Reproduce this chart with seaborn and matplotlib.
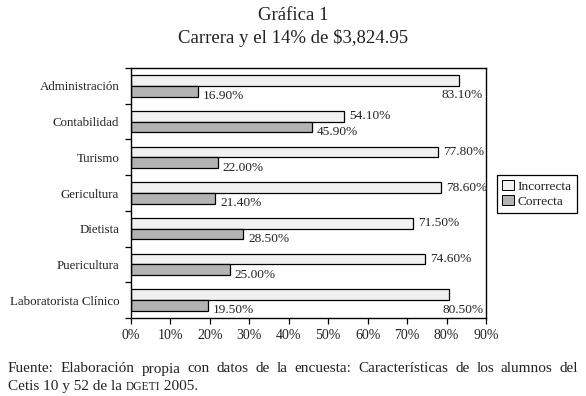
import pandas as pd
import seaborn as sns
import matplotlib.pyplot as plt
from matplotlib.ticker import FixedLocator, FuncFormatter

# Datos
carreras = ['Administración', 'Contabilidad', 'Turismo', 'Gericultura',
            'Dietista', 'Puericultura', 'Laboratorista Clínico']
incorrecta = [83.10, 54.10, 77.80, 78.60, 71.50, 74.60, 80.50]
correcta = [16.90, 45.90, 22.00, 21.40, 28.50, 25.00, 19.50]
series = ['Incorrecta', 'Correcta']
colores = ['#f1f1f1', '#b3b3b3']
x_ticks = [0, 10, 20, 30, 40, 50, 60, 70, 80, 90]

df = pd.DataFrame({
    'Carrera': carreras * 2,
    'Valor': incorrecta + correcta,
    'Respuesta': ['Incorrecta'] * len(carreras) + ['Correcta'] * len(carreras),
})

sns.set_style('white')
plt.rcParams['font.family'] = ['Liberation Serif', 'DejaVu Serif']
plt.rcParams['text.color'] = '#222222'
plt.rcParams['xtick.color'] = 'black'

fs = 9.6

fig = plt.figure(figsize=(5.86, 3.96), dpi=100)
ax = fig.add_axes([131 / 586, 1 - 318 / 396, 355 / 586, 250 / 396])

sns.barplot(data=df, y='Carrera', x='Valor', hue='Respuesta', hue_order=series,
            order=carreras, orient='h', width=0.6, palette=colores,
            edgecolor='black', linewidth=0.9, saturation=1, ax=ax)

ax.set_xlim(0, 90)
ax.set_ylim(len(carreras) - 0.5, -0.5)
ax.set_xlabel('')
ax.set_ylabel('')

for s in ax.spines.values():
    s.set_visible(True)
    s.set_color('black')
    s.set_linewidth(1.0)

ax.xaxis.set_major_locator(FixedLocator(x_ticks))
ax.xaxis.set_major_formatter(FuncFormatter(lambda v, p: f'{v:.0f}%'))
ax.tick_params(axis='x', bottom=True, length=4, width=0.9, color='black',
               labelsize=10, labelcolor='#222222', pad=4)
ax.tick_params(axis='y', which='major', left=False, labelsize=9.3,
               labelcolor='#222222', pad=5)
ax.yaxis.set_minor_locator(FixedLocator([i - 0.5 for i in range(len(carreras) + 1)]))
ax.tick_params(axis='y', which='minor', left=True, length=4, width=0.9, color='black')

# Etiquetas de valores
for cont, nombre in zip(ax.containers, series):
    for bar, val in zip(cont, cont.datavalues):
        yc = bar.get_y() + bar.get_height() / 2
        txt = f'{val:.2f}%'
        if nombre == 'Incorrecta':
            if val > 80:
                ax.annotate(txt, (90, yc + bar.get_height()), xytext=(-2, -3),
                            textcoords='offset points', ha='right', va='center',
                            fontsize=fs)
            else:
                ax.annotate(txt, (val, yc), xytext=(3.5, 0),
                            textcoords='offset points', ha='left', va='center',
                            fontsize=fs)
        else:
            ax.annotate(txt, (val, yc), xytext=(3.5, -3.5),
                        textcoords='offset points', ha='left', va='center',
                        fontsize=fs)

ax.get_legend().remove()
handles = [plt.Rectangle((0, 0), 1, 1, facecolor=c, edgecolor='black', linewidth=0.7)
           for c in colores]
leg = fig.legend(handles, series, loc='center', bbox_to_anchor=(537 / 586, 1 - 194 / 396),
                 fontsize=fs, frameon=True, fancybox=False, edgecolor='black',
                 framealpha=1, handlelength=0.9, handleheight=0.8, handletextpad=0.25,
                 borderpad=0.4, labelspacing=0.15, borderaxespad=0)
leg.get_frame().set_linewidth(0.9)

fig.text(0.5, 1 - 16 / 396, 'Gráfica 1', ha='center', va='center', fontsize=13.5)
fig.text(0.5, 1 - 38 / 396, 'Carrera y el 14% de $3,824.95', ha='center', va='center',
         fontsize=13.5)

# Nota al pie (primera línea justificada)
nota = 'Fuente: Elaboración propia con datos de la encuesta: Características de los alumnos del'
palabras = nota.split()
x0, x1 = 8 / 586, 578 / 586
y1 = 1 - 369 / 396
renderer = fig.canvas.get_renderer()
objs = [fig.text(0, y1, w, ha='left', va='center', fontsize=11) for w in palabras]
anchos = [o.get_window_extent(renderer).width / fig.bbox.width for o in objs]
hueco = (x1 - x0 - sum(anchos)) / (len(palabras) - 1)
xp = x0
for o, w in zip(objs, anchos):
    o.set_x(xp)
    xp += w + hueco

y2 = 1 - 390 / 396
t1 = fig.text(x0, y2, 'Cetis 10 y 52 de la ', ha='left', va='baseline', fontsize=11)
t2 = fig.text(0, y2, 'DGETI', fontsize=8.3, va='baseline')
t3 = fig.text(0, y2, ' 2005.', fontsize=11, va='baseline')
w1 = t1.get_window_extent(renderer)
t2.set_x(w1.x1 / fig.bbox.width)
w2 = t2.get_window_extent(renderer)
t3.set_x(w2.x1 / fig.bbox.width)

fig.savefig('out.png', dpi=100)
